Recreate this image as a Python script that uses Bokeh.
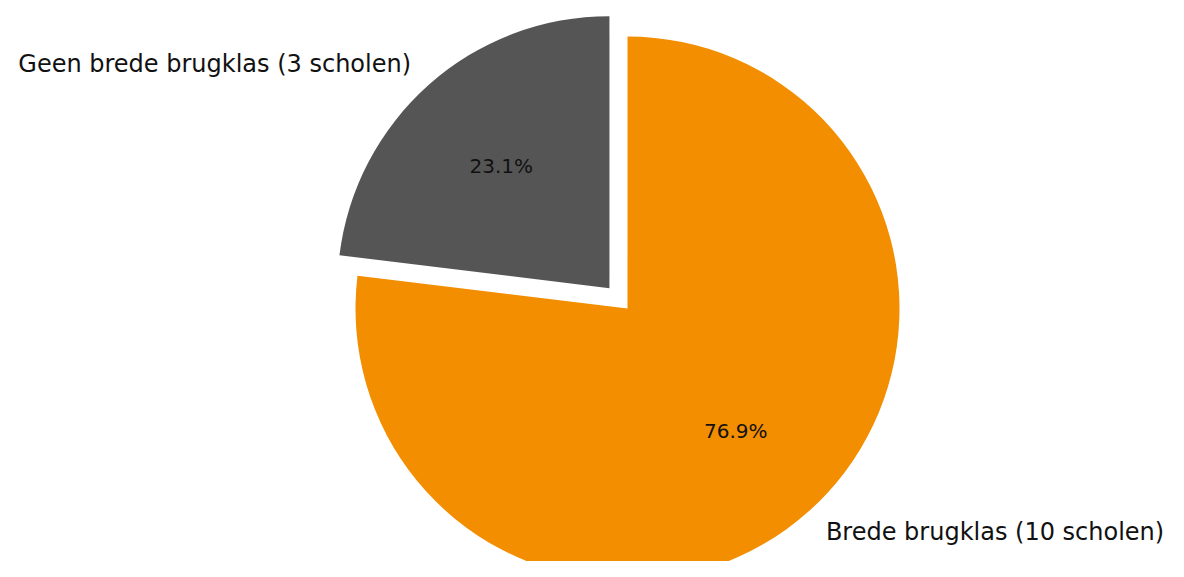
import numpy as np
from bokeh.plotting import figure
from bokeh.models import ColumnDataSource, Range1d
from bokeh.core.properties import value
from bokeh.embed import file_html
from bokeh.resources import INLINE

# Data
labels = ["Brede brugklas (10 scholen)", "Geen brede brugklas (3 scholen)"]
counts = [10, 3]
colors = ["#F28E00", "#555555"]
explode = [0.0, 0.1]

start_deg = 90.0
radius = 1.0

vals = np.array(counts, dtype=float)
fracs = vals / vals.sum()

starts, ends, cxs, cys = [], [], [], []
lx, ly, lalign, px, py, pct = [], [], [], [], [], []
theta1 = start_deg / 360.0
for f, ex in zip(fracs, explode):
    theta2 = theta1 - f
    mid = np.pi * (theta1 + theta2)
    cx = ex * radius * np.cos(mid)
    cy = ex * radius * np.sin(mid)
    starts.append(2 * np.pi * theta2)
    ends.append(2 * np.pi * theta1)
    cxs.append(cx)
    cys.append(cy)
    x = cx + 1.1 * radius * np.cos(mid)
    y = cy + 1.1 * radius * np.sin(mid)
    lx.append(x)
    ly.append(y)
    lalign.append("left" if x > 0 else "right")
    px.append(cx + 0.6 * radius * np.cos(mid))
    py.append(cy + 0.6 * radius * np.sin(mid))
    pct.append(f"{f * 100:.1f}%")
    theta1 = theta2

src = ColumnDataSource(dict(x=cxs, y=cys, start=starts, end=ends, color=colors,
                            lx=lx, ly=ly, label=labels, align=lalign,
                            px=px, py=py, pct=pct))

W, H = 1168, 561
scale = 272.0  # px per unit
cpx, cpy = 627, 308
p = figure(width=W, height=H, output_backend="svg", toolbar_location=None,
           x_range=Range1d(-cpx / scale, (W - cpx) / scale),
           y_range=Range1d(-(H - cpy) / scale, cpy / scale),
           min_border=0)
p.axis.visible = False
p.grid.visible = False
p.outline_line_color = None
p.background_fill_color = "white"

p.wedge(x="x", y="y", radius=radius, start_angle="start", end_angle="end",
        fill_color="color", line_color=None, source=src)

p.text(x="lx", y="ly", text="label", text_align="align", text_baseline="middle",
       text_font=value("DejaVu Sans"), text_font_size="24px", text_color="#111111",
       source=src)
p.text(x="px", y="py", text="pct", text_align="center", text_baseline="middle",
       text_font=value("DejaVu Sans"), text_font_size="20px", text_color="#111111",
       source=src)

open("out.html", "w").write(file_html(p, INLINE))
